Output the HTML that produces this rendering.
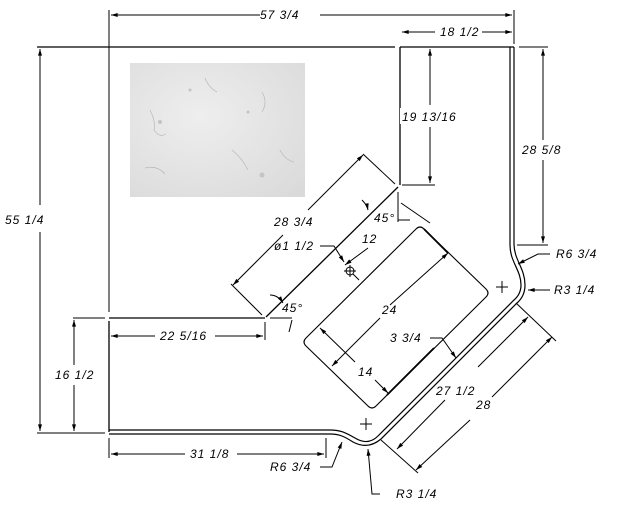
<!DOCTYPE html>
<html><head><meta charset="utf-8"><style>
html,body{margin:0;padding:0;background:#fff}
svg{display:block}
text{font-family:"Liberation Sans",sans-serif;font-style:italic;font-size:12px;fill:#000;letter-spacing:1px}
</style></head><body>
<svg width="635" height="516" viewBox="0 0 635 516" xmlns="http://www.w3.org/2000/svg">
<defs>
<marker id="a" viewBox="0 0 10 6" refX="10" refY="3" markerWidth="8" markerHeight="4" orient="auto-start-reverse"><path d="M0 0L10 3L0 6z" fill="#000"/></marker>
<radialGradient id="m" cx="0.4" cy="0.4" r="0.8"><stop offset="0" stop-color="#eeeeee"/><stop offset="1" stop-color="#dadada"/></radialGradient>
</defs>
<g fill="none" stroke="#000" stroke-width="1">
<!-- marble -->
<rect x="130" y="63" width="175" height="134" fill="url(#m)" stroke="none"/>
<g stroke="#b8b8b8" stroke-width="0.7">
<path d="M150 110 q6 12 4 20 q5 8 12 4"/><path d="M232 150 q10 8 16 20"/><path d="M262 92 q6 10 0 20"/><path d="M145 168 q12 -3 20 6"/><path d="M205 78 q4 10 12 14"/><path d="M280 150 q5 10 14 12"/>
</g>
<g fill="#c4c4c4" stroke="none">
<circle cx="160" cy="122" r="2"/><circle cx="262" cy="175" r="2.5"/><circle cx="248" cy="112" r="1.5"/><circle cx="190" cy="90" r="1.5"/>
</g>
<!-- top edge -->
<line x1="37" y1="47" x2="395" y2="47" stroke-width="1.3"/>
<line x1="519" y1="47" x2="548" y2="47"/>
<line x1="400" y1="47" x2="400" y2="185" stroke-width="1.3"/>
<line x1="400" y1="47" x2="514" y2="47" stroke-width="1.3"/>
<line x1="109" y1="10" x2="109" y2="312"/>
<line x1="514" y1="10" x2="514" y2="44"/>
<!-- left part -->
<line x1="109" y1="318" x2="265" y2="318" stroke-width="1.3"/>
<line x1="266" y1="317" x2="398" y2="187" stroke-width="1.3"/>
<line x1="109" y1="321" x2="109" y2="432" stroke-width="1.3"/>
<!-- outline double -->
<path d="M510 47 L510 245 C510 262 521 270 521 285 Q521 294 514 300 L378 436 Q368 446 355 438 C346 433 341 430 330 430 L109 430" stroke-width="1.2"/>
<path d="M514 47 L514 244 C514 260 525 268 525 285 Q525 296 517 303 L381 439 Q368 450 353 442 C345 437 340 434 330 434 L109 434" stroke-width="1.2"/>
<!-- sink -->
<path d="M424 229 L486 289 Q490 293 486 297 L376 406 Q372 410 368 406 L306 346 Q302 342 306 338 L416 229 Q420 225 424 229 Z" stroke-width="1.1"/>
<line x1="448" y1="253" x2="424" y2="229" stroke-width="1.8"/>
<line x1="387" y1="395" x2="434" y2="348" stroke-width="1.8"/>
<!-- crosshairs -->
<path d="M496 287h12M502 281v12M360 424h12M366 418v12"/>
<circle cx="350" cy="271" r="4"/><path d="M344 271h12M350 265v12M353 274l6 6"/>
<!-- dims -->
<line x1="111" y1="15" x2="260" y2="15" marker-start="url(#a)"/><line x1="320" y1="15" x2="512" y2="15" marker-end="url(#a)"/>
<line x1="402" y1="32" x2="435" y2="32" marker-start="url(#a)"/><line x1="482" y1="32" x2="512" y2="32" marker-end="url(#a)"/>
<line x1="40" y1="49" x2="40" y2="205" marker-start="url(#a)"/><line x1="40" y1="232" x2="40" y2="431" marker-end="url(#a)"/>
<line x1="37" y1="433" x2="105" y2="433"/>
<line x1="73" y1="318" x2="105" y2="318"/>
<line x1="74" y1="320" x2="74" y2="365" marker-start="url(#a)"/><line x1="74" y1="385" x2="74" y2="431" marker-end="url(#a)"/>
<line x1="430" y1="49" x2="430" y2="105" marker-start="url(#a)"/><line x1="430" y1="127" x2="430" y2="183" marker-end="url(#a)"/>
<line x1="402" y1="185" x2="435" y2="185"/>
<line x1="543" y1="49" x2="543" y2="140" marker-start="url(#a)"/><line x1="543" y1="160" x2="543" y2="243" marker-end="url(#a)"/>
<line x1="517" y1="245" x2="548" y2="245"/>
<line x1="111" y1="336" x2="155" y2="336" marker-start="url(#a)"/><line x1="215" y1="336" x2="263" y2="336" marker-end="url(#a)"/>
<line x1="265" y1="322" x2="265" y2="340"/>
<line x1="109" y1="438" x2="109" y2="458"/>
<line x1="111" y1="454" x2="185" y2="454" marker-start="url(#a)"/><line x1="237" y1="454" x2="324" y2="454" marker-end="url(#a)"/>
<line x1="326" y1="438" x2="326" y2="458"/>
<!-- 28 3/4 -->
<line x1="233" y1="285" x2="283" y2="235" marker-start="url(#a)"/><line x1="308" y1="210" x2="363" y2="155" marker-end="url(#a)"/>
<line x1="363" y1="154" x2="395" y2="184"/><line x1="231" y1="284" x2="262" y2="315"/>
<!-- 12 -->
<line x1="398" y1="192" x2="398" y2="222"/><path d="M398 220h12"/>
<line x1="401" y1="203" x2="430" y2="223"/>
<line x1="368" y1="248" x2="345" y2="265" marker-end="url(#a)"/>
<path d="M320 246h14l10 16" marker-end="url(#a)"/>
<path d="M362 200q5 5 6 10" marker-end="url(#a)"/><path d="M270 295q8 0 13 8" marker-end="url(#a)"/>
<path d="M270 318h22M292 320l-3 12"/>
<!-- 24 -->
<line x1="448" y1="253" x2="390" y2="305" marker-start="url(#a)"/><line x1="380" y1="318" x2="332" y2="366" marker-end="url(#a)"/>
<!-- 14 -->
<line x1="320" y1="328" x2="355" y2="362" marker-start="url(#a)"/><line x1="375" y1="380" x2="388" y2="393" marker-end="url(#a)"/>
<!-- 3 3/4 -->
<path d="M430 338h12l14 20" marker-end="url(#a)"/>
<!-- 27 1/2 -->
<line x1="528" y1="317" x2="478" y2="367" marker-start="url(#a)"/><line x1="445" y1="400" x2="397" y2="449" marker-end="url(#a)"/>
<line x1="516" y1="303" x2="556" y2="341"/><line x1="381" y1="440" x2="418" y2="473"/>
<!-- 28 -->
<line x1="552" y1="337" x2="492" y2="397" marker-start="url(#a)"/><line x1="470" y1="420" x2="416" y2="470" marker-end="url(#a)"/>
<!-- radius leaders -->
<path d="M550 254h-12l-20 10" marker-end="url(#a)"/>
<path d="M550 290h-22" marker-end="url(#a)"/>
<path d="M320 467h12l10 -25" marker-end="url(#a)"/>
<path d="M380 494h-8l-4 -45" marker-end="url(#a)"/>
</g>
<text x="260" y="19">57 3/4</text>
<text x="440" y="36">18 1/2</text>
<rect x="400" y="108" width="56" height="16" fill="#fff"/>
<text x="402" y="121">19 13/16</text>
<text x="522" y="154">28 5/8</text>
<text x="5" y="224">55 1/4</text>
<text x="55" y="379">16 1/2</text>
<text x="160" y="340">22 5/16</text>
<text x="190" y="458">31 1/8</text>
<text x="274" y="226">28 3/4</text>
<text x="274" y="250">ø1 1/2</text>
<text x="362" y="243">12</text>
<text x="374" y="222">45°</text>
<text x="282" y="312">45°</text>
<text x="382" y="314">24</text>
<text x="390" y="342">3 3/4</text>
<text x="358" y="376">14</text>
<text x="436" y="395">27 1/2</text>
<text x="476" y="409">28</text>
<text x="556" y="258">R6 3/4</text>
<text x="554" y="294">R3 1/4</text>
<text x="270" y="471">R6 3/4</text>
<text x="396" y="498">R3 1/4</text>
</svg>
</body></html>
